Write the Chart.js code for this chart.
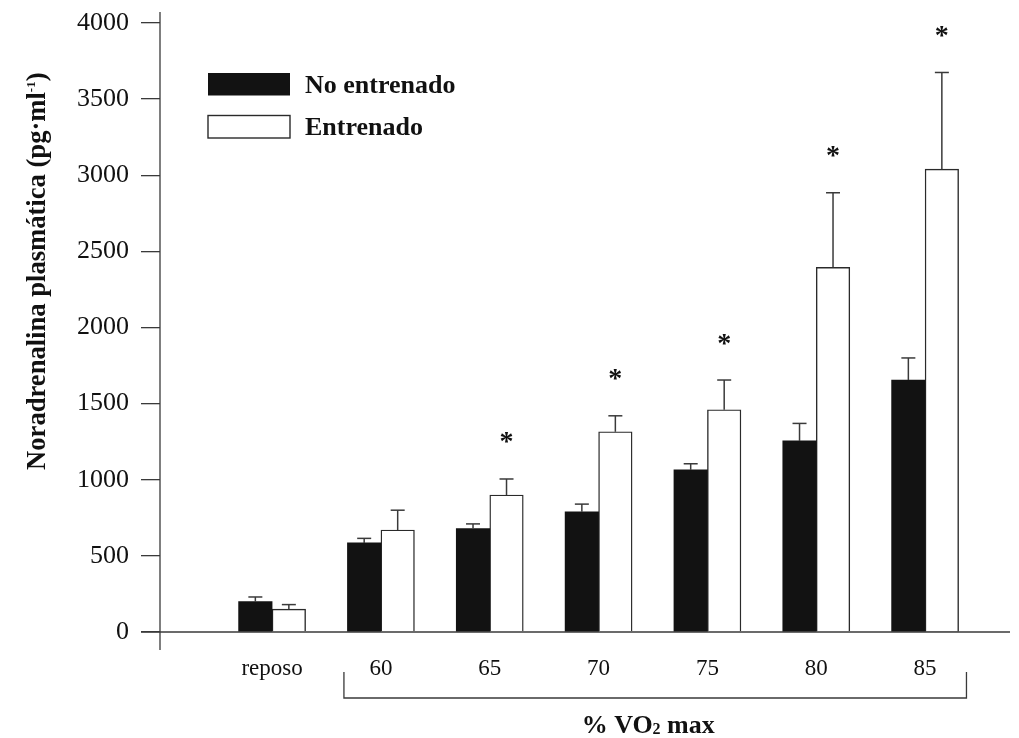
<!DOCTYPE html>
<html>
<head>
<meta charset="utf-8">
<script src="https://cdn.jsdelivr.net/npm/chart.js@4.4.1/dist/chart.umd.min.js"></script>
<style>
  html, body { margin: 0; padding: 0; background: #fff; }
  #wrap { width: 1019px; height: 738px; }
</style>
</head>
<body>
<div id="wrap"><canvas id="noradrenalina-chart"></canvas></div>
<script>
// Noradrenalina plasmática en reposo y a distintas intensidades (% VO2 max)
const categories = ['reposo', '60', '65', '70', '75', '80', '85'];
const noEntrenado = [200, 585, 680, 790, 1065, 1255, 1655];
const noEntrenadoSE = [30, 30, 30, 50, 40, 115, 145];
const entrenado = [150, 670, 900, 1315, 1460, 2395, 3040];
const entrenadoSE = [30, 130, 105, 105, 195, 490, 635];
const significativo = [false, false, true, true, true, true, true];
const yTicks = [0, 500, 1000, 1500, 2000, 2500, 3000, 3500, 4000];

const SERIF = '"Liberation Serif", "Times New Roman", serif';
const INK = '#111';
const LINE = '#3a3a3a';

function toPoints(values) {
  return values.map((v, i) => ({ x: i + 1, y: v }));
}

function seg(ctx, x1, y1, x2, y2) {
  ctx.beginPath();
  ctx.moveTo(x1, y1);
  ctx.lineTo(x2, y2);
  ctx.stroke();
}

// ejes, barras de error, asteriscos, leyenda y títulos
const decoracion = {
  id: 'decoracion',
  afterDatasetsDraw(chart) {
    const ctx = chart.ctx;
    const a = chart.chartArea;
    const x = chart.scales.x;
    const y = chart.scales.y;
    ctx.save();

    // ejes
    ctx.strokeStyle = LINE;
    ctx.lineWidth = 1.3;
    seg(ctx, a.left, a.top - 11, a.left, a.bottom + 18);
    seg(ctx, a.left - 19, a.bottom, a.right, a.bottom);

    // barras de error (solo hacia arriba)
    chart.data.datasets.forEach((ds, di) => {
      const meta = chart.getDatasetMeta(di);
      meta.data.forEach((bar, i) => {
        const top = y.getPixelForValue(ds.data[i].y + ds.se[i]);
        ctx.strokeStyle = LINE;
        ctx.lineWidth = 1.5;
        seg(ctx, bar.x, bar.y, bar.x, top);
        seg(ctx, bar.x - 7, top, bar.x + 7, top);

        if (di === 1 && significativo[i]) {
          ctx.fillStyle = INK;
          ctx.font = 'bold 28px ' + SERIF;
          ctx.textAlign = 'center';
          ctx.textBaseline = 'alphabetic';
          const m = ctx.measureText('*');
          const off = (m.actualBoundingBoxAscent - m.actualBoundingBoxDescent) / 2;
          ctx.fillText('*', bar.x, top - 41 + off);
        }
      });
    });

    // leyenda
    const lx = a.left + 48;
    const ly = a.top + 50;
    chart.data.datasets.forEach((ds, di) => {
      const by = ly + di * 42.5;
      ctx.fillStyle = ds.backgroundColor;
      ctx.fillRect(lx, by, 82, 22.5);
      if (ds.borderWidth) {
        ctx.strokeStyle = ds.borderColor;
        ctx.lineWidth = 1.4;
        ctx.strokeRect(lx, by, 82, 22.5);
      }
      ctx.fillStyle = INK;
      ctx.font = 'bold 26px ' + SERIF;
      ctx.textAlign = 'left';
      ctx.textBaseline = 'alphabetic';
      ctx.fillText(ds.label, lx + 97, by + 19.5);
    });

    // corchete bajo las intensidades
    const bx1 = x.getPixelForValue(1.66);
    const bx2 = x.getPixelForValue(7.38);
    const byTop = a.bottom + 40;
    const byBot = a.bottom + 66;
    ctx.strokeStyle = LINE;
    ctx.lineWidth = 1.3;
    ctx.beginPath();
    ctx.moveTo(bx1, byTop);
    ctx.lineTo(bx1, byBot);
    ctx.lineTo(bx2, byBot);
    ctx.lineTo(bx2, byTop);
    ctx.stroke();

    // título eje x: % VO2 max
    ctx.fillStyle = INK;
    ctx.textAlign = 'left';
    ctx.textBaseline = 'alphabetic';
    const big = 'bold 26px ' + SERIF;
    const small = 'bold 16px ' + SERIF;
    ctx.font = big;
    const w1 = ctx.measureText('% VO').width;
    const w3 = ctx.measureText(' max').width;
    ctx.font = small;
    const w2 = ctx.measureText('2').width;
    const xc = (bx1 + bx2) / 2 - 7;
    let tx = xc - (w1 + w2 + w3) / 2;
    const tb = a.bottom + 101;
    ctx.font = big;
    ctx.fillText('% VO', tx, tb);
    tx += w1;
    ctx.font = small;
    ctx.fillText('2', tx, tb + 1);
    tx += w2;
    ctx.font = big;
    ctx.fillText(' max', tx, tb);

    // título eje y
    ctx.save();
    ctx.translate(45, y.getPixelForValue(2370));
    ctx.rotate(-Math.PI / 2);
    const p1 = 'Noradrenalina plasmática (pg·ml';
    const p2 = '-1';
    const p3 = ')';
    const tit = 'bold 26.6px ' + SERIF;
    const sup = 'bold 13px ' + SERIF;
    ctx.font = tit;
    const q1 = ctx.measureText(p1).width;
    const q3 = ctx.measureText(p3).width;
    ctx.font = sup;
    const q2 = ctx.measureText(p2).width;
    let sx = -(q1 + q2 + q3) / 2;
    ctx.font = tit;
    ctx.fillText(p1, sx, 0);
    sx += q1;
    ctx.font = sup;
    ctx.fillText(p2, sx, -10);
    sx += q2;
    ctx.font = tit;
    ctx.fillText(p3, sx, 0);
    ctx.restore();

    ctx.restore();
  }
};

const ctx = document.getElementById('noradrenalina-chart').getContext('2d');
new Chart(ctx, {
  type: 'bar',
  data: {
    datasets: [
      {
        label: 'No entrenado',
        data: toPoints(noEntrenado),
        se: noEntrenadoSE,
        backgroundColor: '#121212',
        borderWidth: 0,
        barThickness: 33.5
      },
      {
        label: 'Entrenado',
        data: toPoints(entrenado),
        se: entrenadoSE,
        backgroundColor: '#ffffff',
        borderColor: '#2a2a2a',
        borderWidth: 1.4,
        barThickness: 33.5
      }
    ]
  },
  options: {
    responsive: true,
    maintainAspectRatio: false,
    animation: false,
    layout: { padding: { top: 23, right: 9, left: 0, bottom: 0 } },
    plugins: {
      legend: { display: false },
      tooltip: { enabled: false }
    },
    scales: {
      x: {
        type: 'linear',
        offset: false,
        min: -0.03,
        max: 7.78,
        grid: { display: false, offset: false },
        border: { display: false },
        afterBuildTicks: s => { s.ticks = categories.map((c, i) => ({ value: i + 1 })); },
        afterFit: s => { s.height = 106; },
        ticks: {
          callback: (v, i) => categories[i],
          font: { family: SERIF, size: 23 },
          color: INK,
          padding: 15,
          maxRotation: 0,
          autoSkip: false
        }
      },
      y: {
        min: 0,
        max: 4000,
        afterBuildTicks: s => { s.ticks = yTicks.map(v => ({ value: v })); },
        afterFit: s => {
          s.width = 160;
          s.paddingTop = 0;
          s.paddingBottom = 0;
        },
        grid: { drawOnChartArea: false, drawTicks: true, tickLength: 19, color: LINE, lineWidth: 1.3 },
        border: { display: false },
        ticks: {
          callback: v => String(v),
          font: { family: SERIF, size: 26 },
          color: INK,
          padding: 12
        }
      }
    }
  },
  plugins: [decoracion]
});
</script>
</body>
</html>
